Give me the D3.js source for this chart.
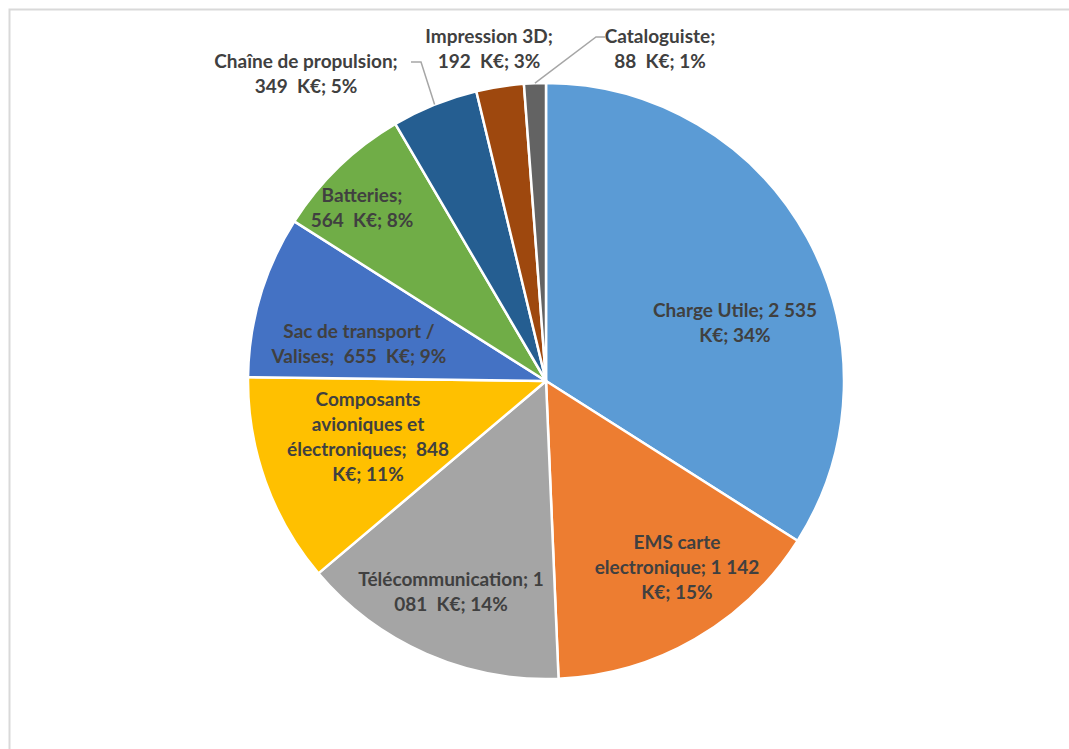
<!DOCTYPE html>
<html>
<head>
<meta charset="utf-8">
<script src="https://cdn.jsdelivr.net/npm/d3@7"></script>
<style>
  body { margin: 0; background: #fff; }
  svg { display: block; }
  .lbl { font-family: Lato, "Open Sans", sans-serif; font-weight: bold; fill: #404040; }
</style>
</head>
<body>
<div id="chart"></div>
<script>
// categories and values (K€), clockwise from 12 o'clock
const categories = [
  "Charge Utile", "EMS carte electronique", "Télécommunication",
  "Composants avioniques et électroniques", "Sac de transport / Valises",
  "Batteries", "Chaîne de propulsion", "Impression 3D", "Cataloguiste"
];
const values = [2535, 1142, 1081, 848, 655, 564, 349, 192, 88];
const colors = ["#5B9BD5", "#ED7D31", "#A5A5A5", "#FFC000", "#4472C4",
                "#70AD47", "#255E91", "#9E480E", "#636363"];

// label lines as Excel wrapped them
const labelLines = [
  ["Charge Utile; 2 535", "K€; 34%"],
  ["EMS carte", "electronique; 1 142", "K€; 15%"],
  ["Télécommunication; 1", "081  K€; 14%"],
  ["Composants", "avioniques et", "électroniques;  848", "K€; 11%"],
  ["Sac de transport /", "Valises;  655  K€; 9%"],
  ["Batteries;", "564  K€; 8%"],
  ["Chaîne de propulsion;", "349  K€; 5%"],
  ["Impression 3D;", "192  K€; 3%"],
  ["Cataloguiste;", "88  K€; 1%"]
];
// label block centres relative to pie centre
const labelPos = [
  [189, -58], [131, 186], [-95, 211], [-178, 56], [-187, -37],
  [-184, -173], [-240, -307], [-57, -332], [114, -332]
];

const width = 1069, height = 749;
const cx = 546, cy = 381, r = 298;
const lineH = 25;

const svg = d3.select("#chart").append("svg")
  .attr("width", width).attr("height", height);

// chart area border
svg.append("rect")
  .attr("x", 9.5).attr("y", 9.5)
  .attr("width", 1100).attr("height", 800)
  .attr("fill", "none").attr("stroke", "#d9d9d9").attr("stroke-width", 2);

const pie = d3.pie().sort(null).value(d => d.value);
const arcs = pie(values.map((v, i) => ({ value: v, i: i })));
const arc = d3.arc().innerRadius(0).outerRadius(r);

const g = svg.append("g").attr("transform", `translate(${cx},${cy})`);

g.selectAll("path.slice")
  .data(arcs)
  .enter().append("path")
  .attr("class", "slice")
  .attr("d", arc)
  .attr("fill", d => colors[d.data.i])
  .attr("stroke", "#fff")
  .attr("stroke-width", 2.5)
  .attr("stroke-linejoin", "round");

// leader lines for Chaîne de propulsion and Cataloguiste
function outerPoint(d) {
  const a = (d.startAngle + d.endAngle) / 2;
  return [Math.sin(a) * r, -Math.cos(a) * r];
}
const leaders = [
  { i: 6, pts: [[-135, -319], [-125, -319]] },
  { i: 8, pts: [[59, -344], [50, -344]] }
];
leaders.forEach(L => {
  const p = outerPoint(arcs[L.i]);
  g.append("path")
    .attr("d", d3.line()(L.pts.concat([p])))
    .attr("fill", "none")
    .attr("stroke", "#a6a6a6")
    .attr("stroke-width", 1.5);
});

// data labels
arcs.forEach((d, k) => {
  const lines = labelLines[k];
  const [lx, ly] = labelPos[k];
  const t = g.append("text")
    .attr("class", "lbl")
    .attr("text-anchor", "middle")
    .attr("font-size", 19)
    .attr("xml:space", "preserve")
    .style("white-space", "pre");
  const y0 = ly - (lines.length - 1) * lineH / 2;
  lines.forEach((s, j) => {
    t.append("tspan")
      .attr("x", lx)
      .attr("y", y0 + j * lineH)
      .attr("dy", "0.35em")
      .text(s);
  });
});
</script>
</body>
</html>
